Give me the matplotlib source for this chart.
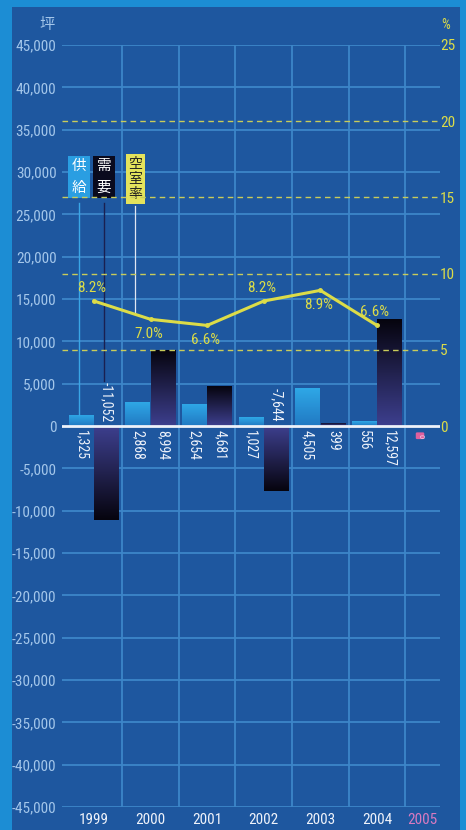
import matplotlib
matplotlib.use('Agg')
import matplotlib.pyplot as plt
import numpy as np
from matplotlib import font_manager
from matplotlib.colors import LinearSegmentedColormap
from matplotlib.patches import Rectangle

# narrow face for the numbers if one is around, CJK face for the tags
installed = {f.name for f in font_manager.fontManager.ttflist}
narrow = [n for n in ['Roboto Condensed', 'Liberation Sans Narrow', 'Open Sans Condensed']
          if n in installed]
plt.rcParams['font.family'] = narrow + ['Noto Sans CJK JP', 'DejaVu Sans']

years = ['1999', '2000', '2001', '2002', '2003', '2004']
supply = [1325, 2868, 2654, 1027, 4505, 556]
demand = [-11052, 8994, 4681, -7644, 399, 12597]
vacancy = [8.2, 7.0, 6.6, 8.2, 8.9, 6.6]
vacancy_label_side = ['above', 'below', 'below', 'above', 'below', 'above']
next_year = '2005'
next_year_value = 0

frame_col = '#1c8dd4'
panel_col = '#1e579f'
grid_col = '#3d86c9'
tick_col = '#a3c6ea'
yellow = '#dcdc48'
white = '#eef2fa'

fig = plt.figure(figsize=(4.66, 8.30), dpi=100)
fig.patch.set_facecolor(frame_col)
fig.patches.append(Rectangle((12 / 466, 0), 448 / 466, 823 / 830,
                             transform=fig.transFigure, facecolor=panel_col,
                             edgecolor='none', zorder=-5))

ax = fig.add_axes([62 / 466, 23 / 830, 378 / 466, 762 / 830])
ax.set_facecolor('none')
for s in ax.spines.values():
    s.set_visible(False)

x = np.arange(len(years))
w = 0.44
off = 0.225

xlim = (-0.565, 6.113)
ylim = (-45000, 45000)

# grid
for v in range(-45000, 45001, 5000):
    if v != 0:
        ax.axhline(v, color=grid_col, lw=1.3, zorder=1)
for b in np.arange(0.5, 6.0, 1.0):
    ax.axvline(b, color=grid_col, lw=1.3, zorder=1)


def gradient_fill(bar, c_zero, c_far):
    x0, y0 = bar.get_xy()
    bw, bh = bar.get_width(), bar.get_height()
    grad = np.linspace(0, 1, 128).reshape(-1, 1)
    if bh < 0:
        grad = grad[::-1]
    cmap = LinearSegmentedColormap.from_list('g', [c_zero, c_far])
    im = ax.imshow(grad, extent=[x0, x0 + bw, min(y0, y0 + bh), max(y0, y0 + bh)],
                   origin='lower', aspect='auto', cmap=cmap, zorder=2)
    im.set_clip_path(bar)
    bar.set_facecolor('none')


sup_bars = ax.bar(x - off, supply, w, color='none', zorder=2, linewidth=0)
dem_bars = ax.bar(x + off, demand, w, color='none', zorder=2, linewidth=0)
for b in sup_bars:
    gradient_fill(b, '#2179c2', '#2fa9e8')
for b in dem_bars:
    gradient_fill(b, '#3d3f8e', '#06040e')

ax.axhline(0, color=white, lw=2, zorder=3)

# rotated value labels, on the other side of zero from the bar
def value_label(xpos, val):
    txt = '{:,}'.format(val)
    if val >= 0:
        ax.annotate(txt, (xpos, 0), xytext=(0, -4), textcoords='offset pixels',
                    rotation=270, ha='center', va='top', color=white, fontsize=10, zorder=5)
    else:
        ax.annotate(txt, (xpos, 0), xytext=(0, 4), textcoords='offset pixels',
                    rotation=270, ha='center', va='bottom', color=white, fontsize=10, zorder=5)


for i in range(len(years)):
    value_label(x[i] - off, supply[i])
    value_label(x[i] + off, demand[i])

ax.text(5.76, -900, str(next_year_value), rotation=270, ha='center', va='top',
        fontsize=6, color='#f4d0e8', zorder=5,
        bbox=dict(boxstyle='round,pad=0.15', facecolor='#e0609e', edgecolor='none'))

ax.set_xlim(*xlim)
ax.set_ylim(*ylim)
ax.set_yticks(range(-45000, 45001, 5000))
ax.set_yticklabels(['{:,}'.format(v) for v in range(-45000, 45001, 5000)])
ax.tick_params(axis='y', length=0, pad=4, colors=tick_col, labelsize=11)
ax.set_xticks(list(x) + [5.8])
ax.set_xticklabels(years + [next_year])
ax.tick_params(axis='x', length=0, pad=4, colors=white, labelsize=11)
ax.get_xticklabels()[-1].set_color('#d87ac0')
ax.text(-15 / 378, 1 + 20 / 762, '坪', transform=ax.transAxes, ha='center', va='center',
        color=tick_col, fontsize=11)

# vacancy rate on the right scale
ax2 = ax.twinx()
ax2.set_ylim(-25, 25)
ax2.set_xlim(*xlim)
for s in ax2.spines.values():
    s.set_visible(False)
ax2.set_yticks(range(0, 26, 5))
ax2.tick_params(axis='y', length=0, pad=0, colors=yellow, labelsize=11)
for v in range(5, 21, 5):
    ax2.axhline(v, color='#c9cc5a', lw=1, ls=(0, (4, 3)), zorder=1)
ax2.text(1 + 6 / 378, 1 + 20 / 762, '%', transform=ax2.transAxes, ha='center', va='center',
         color=yellow, fontsize=10)

ax2.plot(x, vacancy, color=yellow, lw=2.2, marker='o', ms=2.5, zorder=4)
for i, v in enumerate(vacancy):
    dy = 13 if vacancy_label_side[i] == 'above' else -15
    ax2.annotate('{:.1f}%'.format(v), (x[i], v), xytext=(-2, dy), textcoords='offset pixels',
                 ha='center', va='center', color=yellow, fontsize=11, zorder=5)

# series tags with leader lines
tag_y = 29400
ax.text(-0.265, tag_y, '供\n給', ha='center', va='center', color='white', fontsize=10.5,
        linespacing=1.75, zorder=6, family='Noto Sans CJK JP',
        bbox=dict(boxstyle='square,pad=0.22', facecolor='#2a9ee2', edgecolor='none'))
ax.plot([-0.265, -0.265], [supply[0], 26300], color='#3aa6e6', lw=1, zorder=5)

ax.text(0.177, tag_y, '需\n要', ha='center', va='center', color='white', fontsize=10.5,
        linespacing=1.75, zorder=6, family='Noto Sans CJK JP',
        bbox=dict(boxstyle='square,pad=0.22', facecolor='#0a0a1e', edgecolor='none'))
ax.plot([0.177, 0.177], [5300, 26300], color='#1a2050', lw=1, zorder=5)

tag_x = 0.733
vac_at_tag = np.interp(tag_x, x, vacancy) * 1800
ax.text(tag_x, tag_y - 200, '空\n室\n率', ha='center', va='center', color='#222222',
        fontsize=10, linespacing=1.1, zorder=6, family='Noto Sans CJK JP',
        bbox=dict(boxstyle='square,pad=0.2', facecolor='#e4e35c', edgecolor='none'))
ax.plot([tag_x, tag_x], [vac_at_tag, 26000], color='#dfe6f2', lw=0.9, zorder=5)

fig.savefig('out.png', dpi=100, facecolor=fig.get_facecolor())
